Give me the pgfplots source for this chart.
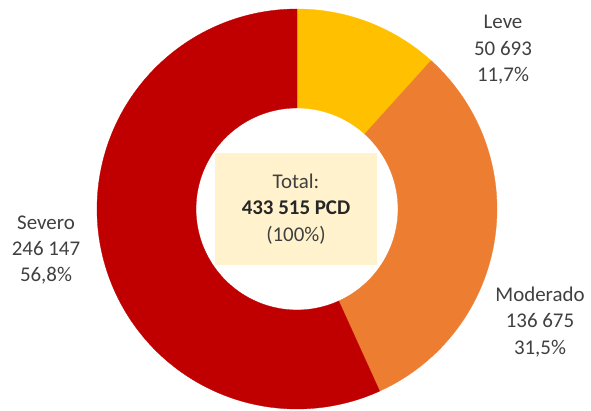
\documentclass[border=0pt]{standalone}
\usepackage{pgfplots}
\pgfplotsset{compat=1.18}
\usepackage{fontspec}
\setmainfont{Carlito}
\definecolor{leve}{HTML}{FFC000}
\definecolor{moder}{HTML}{ED7D31}
\definecolor{sev}{HTML}{C00000}
\definecolor{boxc}{HTML}{FFF2CC}
\definecolor{txt}{HTML}{404040}
\tikzset{lbl/.style={font=\fontsize{21}{26.5}\selectfont, text=txt, align=center, inner sep=0pt}}
% ring segment from angle #1 to #2: t in [0,1] outer arc, [1,2] radial edge, [2,3] inner arc back
\newcommand{\ring}[3]{%
\addplot[fill=#3, draw=#3, line width=0.3pt, domain=0:3, samples=541, variable=\t]
  ({\cx+ifthenelse(\t<=1,\Ro,ifthenelse(\t<=2,\Ro+(\Ri-\Ro)*(\t-1),\Ri))*cos(ifthenelse(\t<=1,#1+(#2-#1)*\t,ifthenelse(\t<=2,#2,#2+(#1-#2)*(\t-2))))},
   {\cy+ifthenelse(\t<=1,\Ro,ifthenelse(\t<=2,\Ro+(\Ri-\Ro)*(\t-1),\Ri))*sin(ifthenelse(\t<=1,#1+(#2-#1)*\t,ifthenelse(\t<=2,#2,#2+(#1-#2)*(\t-2))))}) -- cycle;}
\begin{document}
\begin{tikzpicture}
% values (thousands of PCD)
\def\vL{50.693}
\def\vM{136.675}
\def\vS{246.147}
\pgfmathsetmacro{\tot}{\vL+\vM+\vS}
\pgfmathsetmacro{\aA}{90}
\pgfmathsetmacro{\aB}{90-(\vL/\tot)*360}
\pgfmathsetmacro{\aC}{\aB-(\vM/\tot)*360}
\pgfmathsetmacro{\aD}{\aC-(\vS/\tot)*360}
\def\cx{297}
\def\cy{202}
\def\Ro{200}
\def\Ri{101}
\begin{axis}[width=591bp, height=411bp, scale only axis,
  xmin=0, xmax=591, ymin=0, ymax=411, hide axis, ticks=none, clip=false]
\path (rel axis cs:0,0) rectangle (rel axis cs:1,1);
\ring{\aA}{\aB}{leve}
\ring{\aB}{\aC}{moder}
\ring{\aC}{\aD}{sev}
\node[fill=boxc, minimum width=162bp, minimum height=112bp, inner sep=0pt] at (axis cs:296,202) {};
\node[lbl] at (axis cs:296,202) {Total:\\\textbf{\textcolor{black!85}{433 515 PCD}}\\(100\%)};
\node[lbl] at (axis cs:46,161) {Severo\\246 147\\56,8\%};
\node[lbl] at (axis cs:503,361) {Leve\\50 693\\11,7\%};
\node[lbl] at (axis cs:540,89) {Moderado\\136 675\\31,5\%};
\end{axis}
\end{tikzpicture}
\end{document}
